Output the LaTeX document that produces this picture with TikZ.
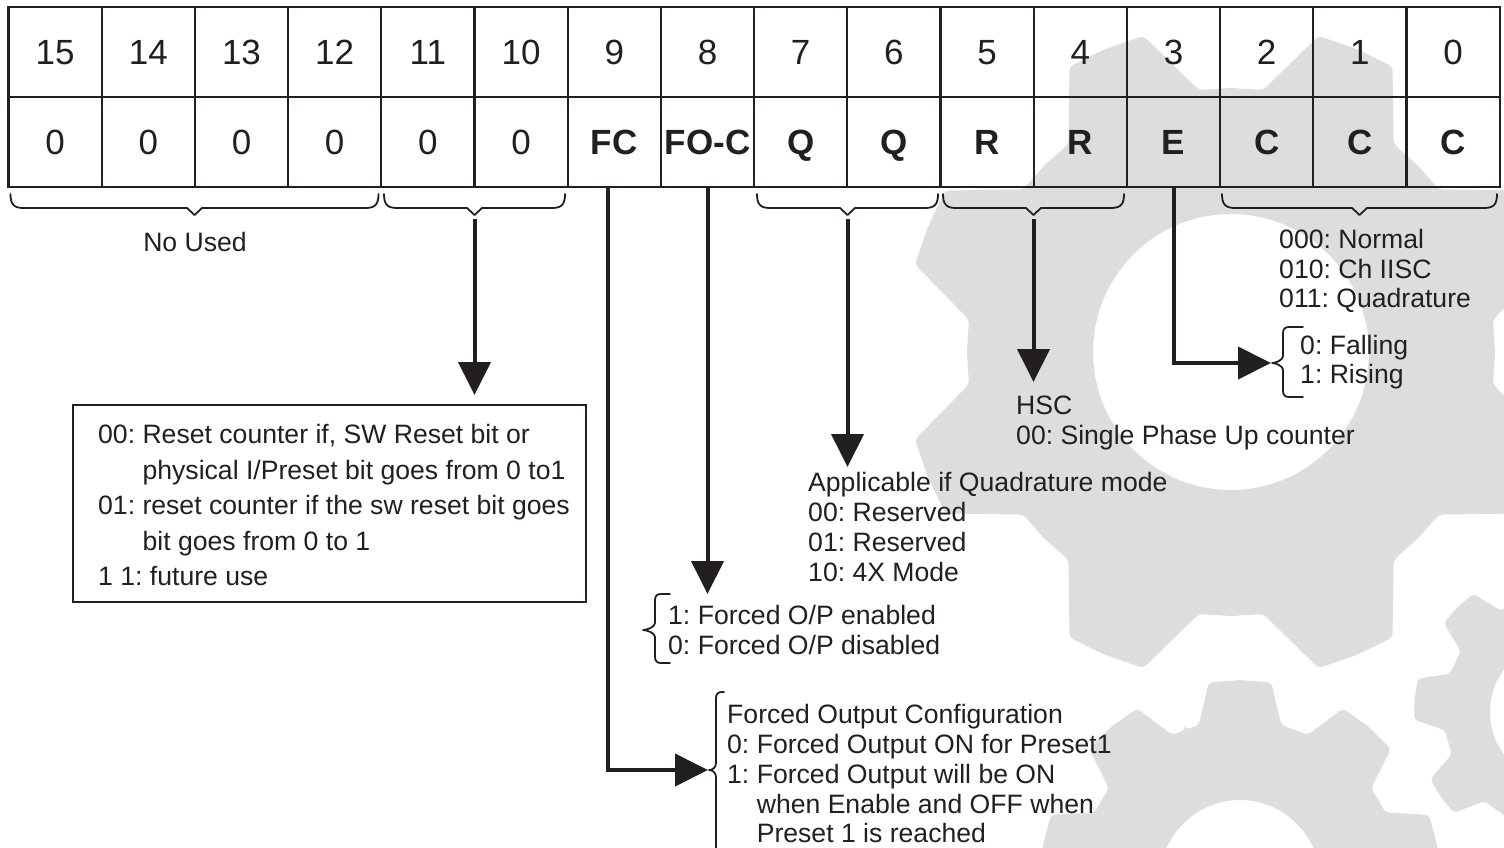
\documentclass[tikz,border=0pt]{standalone}
\usepackage{fontspec}
\setmainfont{Liberation Sans}
\usetikzlibrary{arrows.meta,calc}
\definecolor{ink}{RGB}{35,31,32}
\definecolor{gearcol}{RGB}{221,221,221}
\frenchspacing

% #1 cx, #2 cy, #3 teeth, #4 first tooth angle, #5 tip r, #6 root r, #7 tip half angle, #8 root half angle, #9 hole r
\newcommand{\drawgear}[9]{%
  \begin{scope}[shift={(#1,#2)}]
    \pgfmathsetmacro{\gp}{360/#3}
    \pgfmathsetmacro{\gf}{\gp/2-#7-#8}
    \fill[gearcol, even odd rule, rounded corners=4pt]
      ({#4-\gp/2}:#6)
      \foreach \k in {1,...,#3}{
        -- ({#4+(\k-1)*\gp-#7-\gf}:#6)
        -- ({#4+(\k-1)*\gp-#7}:#5)
        -- ({#4+(\k-1)*\gp}:#5)
        -- ({#4+(\k-1)*\gp+#7}:#5)
        -- ({#4+(\k-1)*\gp+#7+\gf}:#6)
        -- ({#4+(\k-1)*\gp+\gp/2}:#6)
      } -- cycle
      (0,0) circle (#9);
  \end{scope}}

% under-cell brace: #1 x1, #2 x2, #3 name of tip coordinate
\newcommand{\ubr}[3]{%
  \pgfmathsetmacro{\um}{(#1+#2)/2}
  \draw[brc] (#1,194) .. controls (#1,204) and (#1+3,208) .. (#1+13,208)
    -- (\um-7.5,208) -- (\um,215) -- (\um+7.5,208)
    -- (#2-13,208) .. controls (#2-3,208) and (#2,204) .. (#2,194);
  \coordinate (#3) at (\um,219);}

% left curly brace: #1 x of stem, #2 top y, #3 bottom y, #4 tip y, #5 depth, #6 hook
\newcommand{\lbr}[6]{%
  \draw[brc] (#1+#6,#2) -- (#1+6,#2) .. controls (#1+2,#2) and (#1,#2+2) .. (#1,#2+6)
    -- (#1,#4-7) .. controls (#1,#4-3) and (#1-#5+4,#4) .. (#1-#5,#4)
    .. controls (#1-#5+4,#4) and (#1,#4+3) .. (#1,#4+7)
    -- (#1,#3-6) .. controls (#1,#3-2) and (#1+2,#3) .. (#1+6,#3) -- (#1+#6,#3);}

\begin{document}
\begin{tikzpicture}[x=1pt,y=-1pt,
  cell/.style={draw=ink, line width=2.2pt, minimum width=93.2pt, minimum height=90pt,
    inner sep=0pt, text height=25pt, text depth=0pt, text=ink,
    font=\fontsize{35}{40}\selectfont},
  txt/.style={anchor=north west, inner sep=0pt, align=left, text=ink,
    font=\fontsize{26.6}{29.7}\selectfont},
  conn/.style={draw=ink, line width=4pt, -{Triangle[length=33pt,width=32pt]}},
  brc/.style={draw=ink, line width=1.8pt, line cap=round, line join=round}]

\useasboundingbox (0,0) rectangle (1504,848);
\fill[white] (0,0) rectangle (1504,848);

% watermark gears
\begin{scope}
  \clip (0,0) rectangle (1504,848);
  \drawgear{1231}{352}{8}{22.5}{328}{264}{7}{7}{138}
  \drawgear{1240}{880}{9}{-90}{200}{160}{9}{5}{80}
  \drawgear{1562}{712}{9}{-175}{148}{118}{8}{6}{72}
\end{scope}

% register cells
\foreach \b/\v [count=\i from 0] in {15/0,14/0,13/0,12/0,11/0,10/0,
    9/\textbf{FC},8/\textbf{FO-C},7/\textbf{Q},6/\textbf{Q},5/\textbf{R},4/\textbf{R},
    3/\textbf{E},2/\textbf{C},1/\textbf{C},0/\textbf{C}}{
  \node[cell] (t\b) at ({8.5+93.2*(\i+0.5)},52) {\b};
  \node[cell] (v\b) at ({8.5+93.2*(\i+0.5)},142) {\v};
}

% braces under the cells
\ubr{10.5}{378.5}{b1}
\ubr{384}{565}{b2}
\ubr{757}{938}{b3}
\ubr{943}{1124}{b4}
\ubr{1222}{1497}{b5}

% texts
\node[inner sep=0pt, text=ink, font=\fontsize{26.6}{30}\selectfont] (nu) at (195,242) {No Used};

\node[draw=ink, line width=2pt, minimum width=513pt, minimum height=197pt, inner sep=0pt]
  (box) at (329.5,503.5) {};
\node[txt, font=\fontsize{26.6}{35.5}\selectfont] (boxtext) at (98,424.5)
  {00: Reset counter if, SW Reset bit or\\
   \hspace*{44.4pt}physical I/Preset bit goes from 0 to1\\
   01: reset counter if the sw reset bit goes\\
   \hspace*{44.4pt}bit goes from 0 to 1\\
   1 1: future use};

\node[txt, font=\fontsize{26.6}{29.4}\selectfont] (cmodes) at (1279,229.5)
  {000: Normal\\010: Ch IISC\\011: Quadrature};
\node[txt, font=\fontsize{26.6}{29}\selectfont] (edge) at (1300,335.5)
  {0: Falling\\1: Rising};
\node[txt, font=\fontsize{26.6}{30}\selectfont] (hsc) at (1016,395.5)
  {HSC\\00: Single Phase Up counter};
\node[txt] (quad) at (808,472.5)
  {Applicable if Quadrature mode\\00: Reserved\\01: Reserved\\10: 4X Mode};
\node[txt, font=\fontsize{26.6}{30}\selectfont] (fo) at (668,605.5)
  {1: Forced O/P enabled\\0: Forced O/P disabled};
\node[txt, font=\fontsize{26.6}{29.75}\selectfont] (focfg) at (727,704.5)
  {Forced Output Configuration\\
   0: Forced Output ON for Preset1\\
   1: Forced Output will be ON\\
   \hspace*{29.6pt}when Enable and OFF when\\
   \hspace*{29.6pt}Preset 1 is reached};

% curly braces in front of texts
\lbr{1283}{327}{397}{363}{11}{20}
\coordinate (etip) at (1271,363);
\lbr{655}{594}{663}{630}{12}{15}
\lbr{716}{692}{870}{770}{7}{8}
\coordinate (fctip) at (708,770);

% connectors
\draw[conn, shorten >=9pt] (b2) -- (b2 |- box.north);
\draw[conn] ([xshift=-6pt]v9.south) |- (fctip);
\draw[conn, shorten >=11.5pt] (v8.south) -- (v8.south |- fo.north);
\draw[conn, shorten >=5.5pt] (b3) -- (b3 |- quad.north);
\draw[conn, shorten >=13.5pt] (b4) -- (b4 |- hsc.north);
\draw[conn] (v3.south) |- (etip);

\end{tikzpicture}
\end{document}
